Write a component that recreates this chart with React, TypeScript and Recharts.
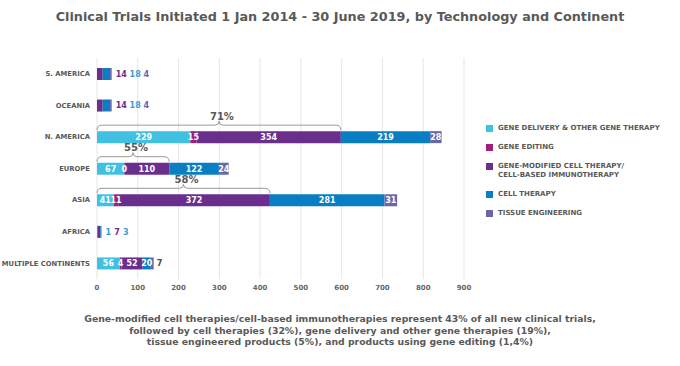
import React from "react";
import { BarChart, Bar, XAxis, YAxis, CartesianGrid, LabelList } from "recharts";

const FONT = '"DejaVu Sans", Verdana, sans-serif';
const TEXT = "#595959";

const categories = ["S. AMERICA", "OCEANIA", "N. AMERICA", "EUROPE", "ASIA", "AFRICA", "MULTIPLE CONTINENTS"];
const geneDelivery = [0, 0, 229, 67, 41, 1, 56];
const geneEditing = [0, 0, 15, 0, 11, 0, 4];
const geneModified = [14, 14, 354, 110, 372, 7, 52];
const cellTherapy = [18, 18, 219, 122, 281, 3, 20];
const tissueEng = [4, 4, 28, 24, 31, 0, 7];
const braceShares = ["", "", "71%", "55%", "58%", "", ""];
const xTicks = [0, 100, 200, 300, 400, 500, 600, 700, 800, 900];

const series = [
	{ name: "GENE DELIVERY & OTHER GENE THERAPY", color: "#41C1E2", text: "#2F9ED2", values: geneDelivery },
	{ name: "GENE EDITING", color: "#A11F79", text: "#A11F79", values: geneEditing },
	{ name: "GENE-MODIFIED CELL THERAPY/\nCELL-BASED IMMUNOTHERAPY", color: "#6A2E8D", text: "#6A2E8D", values: geneModified },
	{ name: "CELL THERAPY", color: "#0A7EC2", text: "#3C9BD3", values: cellTherapy },
	{ name: "TISSUE ENGINEERING", color: "#6768A8", text: "#6768A8", values: tissueEng },
];

const data = categories.map((name, i) => ({
	name,
	geneDelivery: geneDelivery[i],
	geneEditing: geneEditing[i],
	geneModified: geneModified[i],
	cellTherapy: cellTherapy[i],
	tissueEng: tissueEng[i],
}));

const rowTotal = (i: number) => series.reduce((sum, s) => sum + s.values[i], 0);

// all value labels of a row, placed from the cell-therapy segment's geometry
function rowLabels(props: any) {
	const { x, y, width, height, value, index } = props;
	const k = width / value;
	const x0 = x - (geneDelivery[index] + geneEditing[index] + geneModified[index]) * k;
	const cy = y + height / 2;
	const items: React.ReactNode[] = [];
	if (rowTotal(index) < 60) {
		let cx = x0 + rowTotal(index) * k + 4;
		series.forEach((s, si) => {
			const v = s.values[index];
			if (!v) return;
			items.push(
				<text key={si} x={cx} y={cy} dy="0.35em" fontSize={8} fontWeight="bold" fill={s.text} fontFamily={FONT}>
					{v}
				</text>
			);
			cx += String(v).length * 5.2 + 3.5;
		});
		return <g>{items}</g>;
	}
	let start = x0;
	series.forEach((s, si) => {
		const v = s.values[index];
		const w = v * k;
		if (si === series.length - 1 && w < 8) {
			items.push(
				<text key={si} x={start + w + 3} y={cy} dy="0.35em" fontSize={8} fontWeight="bold" fill="#444" fontFamily={FONT}>
					{v}
				</text>
			);
		} else {
			items.push(
				<text key={si} x={start + w / 2} y={cy} dy="0.35em" textAnchor="middle" fontSize={8} fontWeight="bold" fill="#fff" fontFamily={FONT}>
					{v}
				</text>
			);
		}
		start += w;
	});
	return <g>{items}</g>;
}

// curly brace over the first three segments
function braceLabel(props: any) {
	const { x, y, width, value, index } = props;
	const share = braceShares[index];
	if (!share) return null;
	const x0 = x - ((geneDelivery[index] + geneEditing[index]) * width) / value;
	const x1 = x + width;
	const mid = (x0 + x1) / 2;
	const yb = y - 1;
	const yl = yb - 5;
	const d = `M${x0},${yb} Q${x0},${yl} ${x0 + 5},${yl} L${mid - 4},${yl} Q${mid},${yl} ${mid},${yl - 4} Q${mid},${yl} ${mid + 4},${yl} L${x1 - 5},${yl} Q${x1},${yl} ${x1},${yb}`;
	return (
		<g>
			<path d={d} fill="none" stroke="#9a9a9a" strokeWidth={1} />
			<text x={mid + 3} y={yl - 5.5} textAnchor="middle" fontSize={10} fontWeight="bold" fill={TEXT} fontFamily={FONT}>
				{share}
			</text>
		</g>
	);
}

function CategoryTick(props: any) {
	const { x, y, payload } = props;
	return (
		<text x={x} y={y} dy="0.35em" textAnchor="end" fontSize={6.8} fontWeight="bold" fill={TEXT} fontFamily={FONT}>
			{payload.value}
		</text>
	);
}

export default function App() {
	return (
		<div style={{ position: "absolute", left: 0, top: 0, width: 680, height: 366, background: "#fff", fontFamily: FONT }}>
			<div style={{ position: "absolute", top: 9, left: 0, width: 680, textAlign: "center", fontSize: 12.8, fontWeight: "bold", color: TEXT }}>
				Clinical Trials Initiated 1 Jan 2014 - 30 June 2019, by Technology and Continent
			</div>
			<div style={{ position: "absolute", top: 0, left: 0 }}>
				<BarChart width={680} height={310} data={data} layout="vertical" margin={{ top: 58, right: 216, bottom: 11, left: 0 }} barSize={12}>
					<CartesianGrid horizontal={false} stroke="#e6e6e6" />
					<XAxis
						type="number"
						domain={[0, 900]}
						ticks={xTicks}
						axisLine={false}
						tickLine={false}
						tickSize={0}
						tickMargin={6}
						height={20}
						tick={{ fontSize: 7, fontWeight: "bold", fill: "#666", fontFamily: FONT }}
					/>
					<YAxis
						type="category"
						dataKey="name"
						width={97}
						axisLine={false}
						tickLine={false}
						tickSize={0}
						tickMargin={7}
						tick={<CategoryTick />}
					/>
					<Bar dataKey="geneDelivery" stackId="a" fill={series[0].color} isAnimationActive={false} />
					<Bar dataKey="geneEditing" stackId="a" fill={series[1].color} isAnimationActive={false} />
					<Bar dataKey="geneModified" stackId="a" fill={series[2].color} isAnimationActive={false}>
						<LabelList dataKey="geneModified" content={braceLabel} />
					</Bar>
					<Bar dataKey="cellTherapy" stackId="a" fill={series[3].color} isAnimationActive={false}>
						<LabelList dataKey="cellTherapy" content={rowLabels} />
					</Bar>
					<Bar dataKey="tissueEng" stackId="a" fill={series[4].color} isAnimationActive={false} />
				</BarChart>
			</div>
			<div style={{ position: "absolute", left: 486, top: 124, fontSize: 7, fontWeight: "bold", color: TEXT }}>
				{series.map((s) => (
					<div key={s.name} style={{ display: "flex", alignItems: "flex-start", marginBottom: 10 }}>
						<span style={{ display: "inline-block", width: 7, height: 7, background: s.color, marginRight: 5, marginTop: 1 }} />
						<span style={{ whiteSpace: "pre", lineHeight: "9px" }}>{s.name}</span>
					</div>
				))}
			</div>
			<div style={{ position: "absolute", top: 313, left: 0, width: 680, textAlign: "center", fontSize: 9.3, lineHeight: "11.5px", fontWeight: "bold", color: TEXT }}>
				Gene-modified cell therapies/cell-based immunotherapies represent 43% of all new clinical trials,
				<br />
				followed by cell therapies (32%), gene delivery and other gene therapies (19%),
				<br />
				tissue engineered products (5%), and products using gene editing (1,4%)
			</div>
		</div>
	);
}
